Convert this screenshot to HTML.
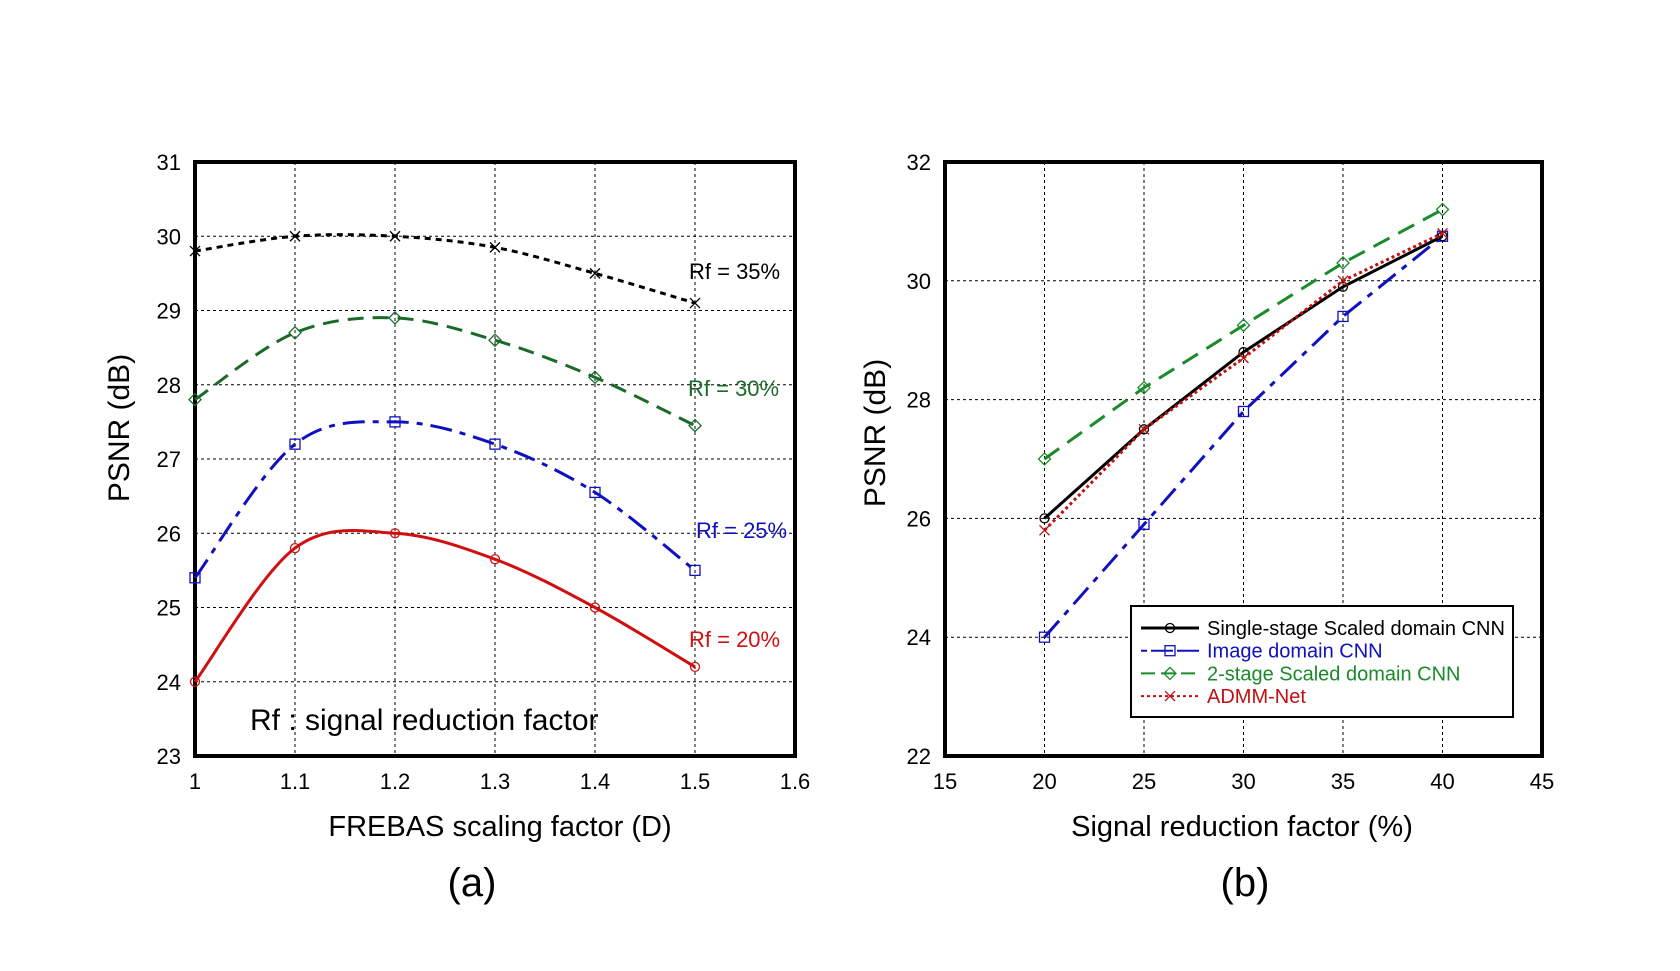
<!DOCTYPE html>
<html><head><meta charset="utf-8"><style>
body{margin:0;background:#fff;}
svg{display:block;font-family:"Liberation Sans",Arial,sans-serif;}
</style></head><body>
<svg id="fig" width="1680" height="971" viewBox="0 0 1680 971"></svg>
<script>
// ---- Chart (a) data ----
const aX = [1, 1.1, 1.2, 1.3, 1.4, 1.5];
const aXTicks = [1, 1.1, 1.2, 1.3, 1.4, 1.5, 1.6];
const aYTicks = [23, 24, 25, 26, 27, 28, 29, 30, 31];
const rf35 = [29.8, 30.0, 30.0, 29.85, 29.5, 29.1];
const rf30 = [27.8, 28.7, 28.9, 28.6, 28.1, 27.45];
const rf25 = [25.4, 27.2, 27.5, 27.2, 26.55, 25.5];
const rf20 = [24.0, 25.8, 26.0, 25.65, 25.0, 24.2];
// ---- Chart (b) data ----
const bX = [20, 25, 30, 35, 40];
const bXTicks = [15, 20, 25, 30, 35, 40, 45];
const bYTicks = [22, 24, 26, 28, 30, 32];
const singleStage = [26.0, 27.5, 28.8, 29.9, 30.75];
const imageDomain = [24.0, 25.9, 27.8, 29.4, 30.75];
const twoStage = [27.0, 28.2, 29.25, 30.3, 31.2];
const admmNet = [25.8, 27.5, 28.7, 30.0, 30.8];

const NS = "http://www.w3.org/2000/svg";
const svg = document.getElementById('fig');
function mk(tag, attrs, parent) {
  const e = document.createElementNS(NS, tag);
  for (const k in attrs) e.setAttribute(k, attrs[k]);
  (parent || svg).appendChild(e);
  return e;
}
function txt(s, attrs, parent) { const t = mk('text', attrs, parent); t.textContent = s; return t; }

function axes(box, xmin, xmax, ymin, ymax, xt, yt, name) {
  const sx = v => box.x0 + (v - xmin) / (xmax - xmin) * (box.x1 - box.x0);
  const sy = v => box.y1 - (v - ymin) / (ymax - ymin) * (box.y1 - box.y0);
  const g = mk('g', {});
  
  
  xt.forEach(v => {
    const x = sx(v);
    if (v !== xmin && v !== xmax) {
      const l = mk('line', {x1: x, x2: x, y1: box.y0, y2: box.y1, stroke: '#000', 'stroke-width': 1, 'stroke-dasharray': '3,3'}, g);
      
      
    }
    const t = txt(String(v), {x: x, y: box.y1 + 33, 'font-size': 22, 'text-anchor': 'middle'}, g);
    
    
  });
  yt.forEach(v => {
    const y = sy(v);
    if (v !== ymin && v !== ymax) {
      const l = mk('line', {x1: box.x0, x2: box.x1, y1: y, y2: y, stroke: '#000', 'stroke-width': 1, 'stroke-dasharray': '3,3'}, g);
      
      
    }
    const t = txt(String(v), {x: box.x0 - 14, y: y + 8, 'font-size': 22, 'text-anchor': 'end'}, g);
    
    
  });
  const r = mk('rect', {x: box.x0, y: box.y0, width: box.x1 - box.x0, height: box.y1 - box.y0, fill: 'none', stroke: '#000', 'stroke-width': 4}, g);
  
  
  return {sx, sy};
}

function spline(pts) {
  let d = `M${pts[0][0]},${pts[0][1]}`;
  for (let i = 0; i < pts.length - 1; i++) {
    const p0 = pts[i - 1] || pts[i], p1 = pts[i], p2 = pts[i + 1], p3 = pts[i + 2] || p2;
    const c1 = [p1[0] + (p2[0] - p0[0]) / 6, p1[1] + (p2[1] - p0[1]) / 6];
    const c2 = [p2[0] - (p3[0] - p1[0]) / 6, p2[1] - (p3[1] - p1[1]) / 6];
    d += ` C${c1[0]},${c1[1]} ${c2[0]},${c2[1]} ${p2[0]},${p2[1]}`;
  }
  return d;
}
function marker(type, x, y, color, parent) {
  let m;
  if (type === 'x') m = mk('path', {d: `M${x-5},${y-5}L${x+5},${y+5}M${x-5},${y+5}L${x+5},${y-5}`, stroke: color, 'stroke-width': 1.3, fill: 'none'}, parent);
  else if (type === 'o') m = mk('circle', {cx: x, cy: y, r: 4.5, stroke: color, 'stroke-width': 1.3, fill: 'none'}, parent);
  else if (type === 's') m = mk('rect', {x: x - 5, y: y - 5, width: 10, height: 10, stroke: color, 'stroke-width': 1.3, fill: 'none'}, parent);
  else m = mk('path', {d: `M${x},${y-6}L${x+6},${y}L${x},${y+6}L${x-6},${y}Z`, stroke: color, 'stroke-width': 1.3, fill: 'none'}, parent);
  
  
}
function series(ax, xs, ys, color, dash, mtype, name, smooth, width) {
  const g = mk('g', {});
  
  
  const pts = xs.map((v, i) => [ax.sx(v), ax.sy(ys[i])]);
  const d = smooth ? spline(pts) : 'M' + pts.map(p => p.join(',')).join('L');
  const p = mk('path', {d: d, stroke: color, 'stroke-width': width || 3, fill: 'none', 'stroke-dasharray': dash}, g);
  
  
  pts.forEach(q => marker(mtype, q[0], q[1], color, g));
}

// Chart (a)
const A = axes({x0: 195, x1: 795, y0: 162, y1: 756}, 1, 1.6, 23, 31, aXTicks, aYTicks, 'chart-a');
series(A, aX, rf35, '#000', '6,5', 'x', 'series-rf35', true, 3);
series(A, aX, rf30, '#1a6b2a', '16,9', 'd', 'series-rf30', true, 3);
series(A, aX, rf25, '#1010c0', '22,8,6,8', 's', 'series-rf25', true, 3);
series(A, aX, rf20, '#d01010', '', 'o', 'series-rf20', true, 3);
[['Rf = 35%', '#000', 271, 689], ['Rf = 30%', '#1a6b2a', 388, 688], ['Rf = 25%', '#1010c0', 530, 696], ['Rf = 20%', '#d01010', 639, 689]].forEach(l => {
  const t = txt(l[0], {x: l[3], y: l[2] + 8, 'font-size': 22, fill: l[1]});
  
  
});
const note = txt('Rf : signal reduction factor', {x: 250, y: 730, 'font-size': 30});


const xa = txt('FREBAS scaling factor (D)', {x: 500, y: 836, 'font-size': 29, 'text-anchor': 'middle'});


const ya = txt('PSNR (dB)', {x: 0, y: 0, 'font-size': 30, 'text-anchor': 'middle', transform: 'translate(129,428) rotate(-90)'});


const ca = txt('(a)', {x: 472, y: 896, 'font-size': 40, 'text-anchor': 'middle'});



// Chart (b)
const B = axes({x0: 945, x1: 1542, y0: 162, y1: 756}, 15, 45, 22, 32, bXTicks, bYTicks, 'chart-b');
series(B, bX, twoStage, '#1a8a2a', '18,10', 'd', 'series-2stage', false, 3);
series(B, bX, imageDomain, '#1010c0', '22,8,6,8', 's', 'series-image-domain', false, 3);
series(B, bX, singleStage, '#000', '', 'o', 'series-single-stage', false, 3);
series(B, bX, admmNet, '#c01010', '3,3', 'x', 'series-admm-net', false, 3);
const xb = txt('Signal reduction factor (%)', {x: 1242, y: 836, 'font-size': 29, 'text-anchor': 'middle'});


const yb = txt('PSNR (dB)', {x: 0, y: 0, 'font-size': 30, 'text-anchor': 'middle', transform: 'translate(885,433) rotate(-90)'});


const cb = txt('(b)', {x: 1245, y: 896, 'font-size': 40, 'text-anchor': 'middle'});



// Legend
const lg = mk('g', {});


mk('rect', {x: 1131, y: 606, width: 382, height: 111, fill: '#fff', stroke: '#000', 'stroke-width': 2}, lg);
const leg = [['Single-stage Scaled domain CNN', '#000', '', 'o'], ['Image domain CNN', '#1010c0', '6,4,16,0', 's'], ['2-stage Scaled domain CNN', '#1a8a2a', '14,6', 'd'], ['ADMM-Net', '#c01010', '3,3', 'x']];
leg.forEach((l, i) => {
  const y = 628 + i * 22.7;
  const e = mk('g', {}, lg);
  
  
  mk('line', {x1: 1141, x2: 1199, y1: y, y2: y, stroke: l[1], 'stroke-width': i === 0 ? 3 : 2, 'stroke-dasharray': l[2]}, e);
  marker(l[3], 1170, y, l[1], e);
  txt(l[0], {x: 1207, y: y + 7, 'font-size': 20, fill: l[1]}, e);
});
</script>
</body></html>
